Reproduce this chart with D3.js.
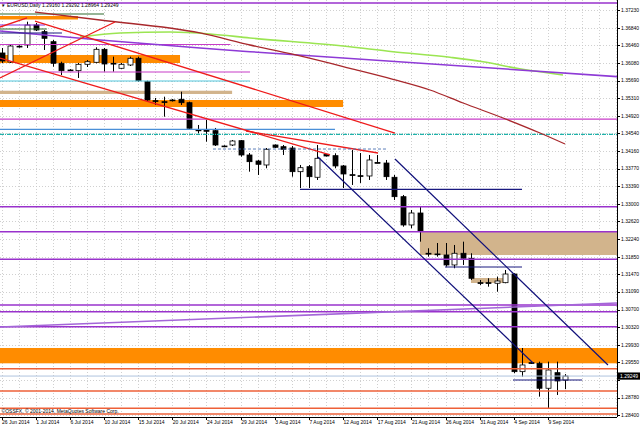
<!DOCTYPE html>
<html><head><meta charset="utf-8">
<script src="https://cdn.jsdelivr.net/npm/d3@7"></script>
<style>body{margin:0;background:#fff}svg{display:block}text{font-family:"Liberation Sans",Arial,sans-serif}</style>
</head><body><svg id="c" width="640" height="427"></svg>
<script>
// ---------- data ----------
const opens  = [1.36293,1.36096,1.36430,1.36467,1.36903,1.36757,1.36539,1.36068,1.35922,1.35907,1.36046,1.36090,1.36373,1.36068,1.35959,1.36031,1.36177,1.35667,1.35253,1.35231,1.35268,1.35283,1.35209,1.34614,1.34603,1.34599,1.34265,1.34287,1.34381,1.34069,1.33938,1.33851,1.34287,1.34250,1.34221,1.33705,1.33814,1.33583,1.34084,1.34054,1.33830,1.33640,1.33618,1.33611,1.33905,1.33894,1.33583,1.33160,1.32543,1.32804,1.31926,1.31911,1.31889,1.31671,1.31926,1.31817,1.31285,1.31285,1.31272,1.31285,1.31474,1.29345,1.29541,1.29528,1.28983,1.29323,1.29160];
const highs  = [1.36402,1.36467,1.36460,1.36975,1.36947,1.36794,1.36576,1.36103,1.35940,1.36075,1.36140,1.36417,1.36402,1.36212,1.36075,1.36212,1.36212,1.35689,1.35312,1.35340,1.35290,1.35449,1.35231,1.34723,1.34834,1.34658,1.34280,1.34396,1.34396,1.34112,1.33960,1.34221,1.34298,1.34287,1.34265,1.33851,1.33851,1.34287,1.34090,1.34106,1.33851,1.34178,1.34112,1.34069,1.34069,1.33960,1.33633,1.33197,1.32870,1.32941,1.32035,1.32150,1.32150,1.32107,1.32179,1.31926,1.31344,1.31381,1.31416,1.31562,1.31490,1.29861,1.29567,1.29563,1.29563,1.29563,1.29292];
const lows   = [1.36075,1.36075,1.36410,1.36402,1.36772,1.36358,1.35994,1.35813,1.35900,1.35748,1.35987,1.36068,1.35885,1.35885,1.35944,1.36009,1.35667,1.35224,1.35159,1.34904,1.35235,1.35159,1.34614,1.34542,1.34359,1.34265,1.34245,1.34265,1.34032,1.33705,1.33633,1.33779,1.34221,1.34069,1.33596,1.33349,1.33349,1.33524,1.34036,1.33779,1.33349,1.33415,1.33459,1.33524,1.33888,1.33524,1.33088,1.32506,1.32471,1.32179,1.31852,1.31852,1.31634,1.31599,1.31671,1.31344,1.31235,1.31198,1.31089,1.31272,1.29310,1.29236,1.29512,1.28800,1.28547,1.28837,1.28964];
const closes = [1.36118,1.36445,1.36440,1.36903,1.36794,1.36613,1.36068,1.35907,1.35915,1.36046,1.36103,1.36373,1.36053,1.36062,1.36046,1.36177,1.35689,1.35268,1.35246,1.35225,1.35262,1.35209,1.34651,1.34608,1.34594,1.34287,1.34260,1.34374,1.34069,1.33923,1.33866,1.34193,1.34237,1.34193,1.33705,1.33792,1.33596,1.33997,1.34047,1.33830,1.33655,1.33627,1.33605,1.33960,1.33897,1.33596,1.33160,1.32543,1.32804,1.32412,1.31920,1.31904,1.31671,1.31926,1.31817,1.31381,1.31280,1.31278,1.31322,1.31474,1.29345,1.29491,1.29535,1.28983,1.29381,1.29142,1.29249];

const dateBars   = [0,4,8,12,16,20,24,28,32,36,40,44,48,52,56,60,64];
const dateLabels = ["26 Jun 2014","1 Jul 2014","6 Jul 2014","10 Jul 2014","15 Jul 2014","20 Jul 2014","24 Jul 2014","29 Jul 2014","3 Aug 2014","7 Aug 2014","12 Aug 2014","17 Aug 2014","21 Aug 2014","26 Aug 2014","31 Aug 2014","4 Sep 2014","9 Sep 2014"];
const priceTicks = [1.37230,1.36840,1.36460,1.36080,1.35690,1.35310,1.34920,1.34540,1.34160,1.33770,1.33390,1.33000,1.32620,1.32240,1.31850,1.31470,1.31090,1.30700,1.30320,1.29930,1.29550,1.29170,1.28780,1.28400];

// horizontal levels (price) drawn across whole chart
const purpleLevels    = [1.37383,1.32941,1.32396,1.31795,1.30798,1.30652,1.30325];
const magentaFull     = [1.34850];
const orangeRedLevels = [1.29407,1.28923,1.28546,1.28422];
const tealLevels      = [1.34520];
// partial levels [price, fromBar, toBar]
const magentaPartial  = [[1.36478,-0.2,26.8],[1.35878,-0.2,29.1]];
const cyanPartial     = [[1.35682,-0.2,29.1]];
const steelPartial    = [[1.34629,-0.2,39.05]];
const darkGreenPartial= [[1.37143,-0.2,12.0],[1.36816,-0.2,5.3]];
const purplePartial   = [[1.36903,-0.2,5.08]];
const navyPartial     = [[1.36729,-0.2,7.07],[1.33321,34.95,60.96],[1.31627,51.94,60.96],[1.29163,59.9,68.0]];
const dashedPartial   = [[1.34199,24.76,45.14]];
// zones [top, bottom, fromBar, toBar]
const orangeZones = [[1.37099,1.37023,-0.2,8.95],[1.36249,1.36074,-0.2,20.9],[1.35268,1.35115,-0.2,40.0],[1.29861,1.29527,-0.2,72.2]];
const tanZones    = [[1.35470,1.35399,-0.2,27.0],[1.32390,1.31888,49.0,72.2],[1.31387,1.31278,54.98,58.97]];
// trend lines [bar1, price1, bar2, price2]
const redTrends    = [[3.91,1.36990,46.08,1.34548],[-0.19,1.36183,38.47,1.34069],[28.63,1.34592,44.09,1.34112],[-0.19,1.35747,13.28,1.36968],[-0.19,1.36859,2.98,1.37056]];
const navyTrends   = [[37.06,1.34025,62.25,1.29534],[46.08,1.33981,71.03,1.29490]];
const violetTrends = [[-0.19,1.30319,72.2,1.30842]];
// moving-average style curves [bar, price]
const maGreen  = [[9.18,1.36641],[13.87,1.36729],[19.73,1.36750],[24.41,1.36707],[29.10,1.36620],[39.99,1.36445],[45.85,1.36321],[52.52,1.36199],[56.39,1.36103],[60.37,1.35959],[65.76,1.35813]];
const maPurple = [[-0.19,1.36772],[11.53,1.36576],[23.24,1.36402],[29.10,1.36321],[72.2,1.35776]];
const maMaroon = [[3.91,1.37186],[11.53,1.37012],[23.24,1.36729],[29.10,1.36467],[35.32,1.36212],[40.81,1.35959],[45.85,1.35719],[50.18,1.35486],[54.05,1.35202],[58.74,1.34875],[63.07,1.34548],[66.0,1.34308]];

const titleText = "EURUSD,Daily  1.29160 1.29292 1.28964 1.29249";
const copyText  = "\u00A9OSSFX, \u00A9 2001-2014, MetaQuotes Software Corp.";

// ---------- drawing ----------
const R = 617, B = 417;
const svg = d3.select("#c");
const x = d3.scaleLinear().domain([0, 66]).range([1.6, 1.6 + 66 * 8.537]);
const y = d3.scaleLinear().domain([1.284, 1.3723]).range([415, 10]);
const last = closes[closes.length - 1];

svg.append("rect").attr("width", 640).attr("height", 427).attr("fill", "#fff");
svg.append("clipPath").attr("id", "clip").append("rect").attr("x", 0).attr("y", 0).attr("width", R).attr("height", B);
const g = svg.append("g").attr("clip-path", "url(#clip)");

// grid
const grid = g.append("g").attr("stroke", "#c4c4c4").attr("stroke-width", 0.8).attr("stroke-dasharray", "1,2");
const gridBars = d3.range(0, 80, 2).filter(i => x(i) < R);
grid.selectAll("line.v").data(gridBars).join("line").attr("x1", d => Math.round(x(d)) + 0.5).attr("x2", d => Math.round(x(d)) + 0.5).attr("y1", 0).attr("y2", B);
grid.selectAll("line.h").data(priceTicks).join("line").attr("x1", 0).attr("x2", R).attr("y1", d => Math.round(y(d)) + 0.5).attr("y2", d => Math.round(y(d)) + 0.5);

// zones
function zones(data, color) {
  g.append("g").selectAll("rect").data(data).join("rect")
    .attr("x", d => Math.max(0, x(d[2]))).attr("width", d => x(d[3]) - Math.max(0, x(d[2])))
    .attr("y", d => y(d[0])).attr("height", d => y(d[1]) - y(d[0])).attr("fill", color);
}
zones(orangeZones, "#FF8C00");
zones(tanZones, "#D2B48C");

// candles
const cg = g.append("g");
const idx = d3.range(opens.length);
cg.selectAll("line.w").data(idx).join("line")
  .attr("x1", i => Math.round(x(i)) + 0.5).attr("x2", i => Math.round(x(i)) + 0.5)
  .attr("y1", i => y(highs[i])).attr("y2", i => y(lows[i])).attr("stroke", "#000").attr("stroke-width", 1);
cg.selectAll("rect").data(idx).join("rect")
  .attr("x", i => Math.round(x(i)) - 2).attr("width", 5)
  .attr("y", i => y(Math.max(opens[i], closes[i])))
  .attr("height", i => Math.max(0.8, Math.abs(y(opens[i]) - y(closes[i]))))
  .attr("fill", i => closes[i] >= opens[i] ? "#fff" : "#000")
  .attr("stroke", "#000").attr("stroke-width", 0.8);

function fullLevels(data, color, w, dash) {
  const s = g.append("g").selectAll("line").data(data).join("line")
    .attr("x1", 0).attr("x2", R).attr("y1", d => y(d)).attr("y2", d => y(d))
    .attr("stroke", color).attr("stroke-width", w);
  if (dash) s.attr("stroke-dasharray", dash);
}
function partLevels(data, color, w, dash) {
  const s = g.append("g").selectAll("line").data(data).join("line")
    .attr("x1", d => x(d[1])).attr("x2", d => x(d[2])).attr("y1", d => y(d[0])).attr("y2", d => y(d[0]))
    .attr("stroke", color).attr("stroke-width", w);
  if (dash) s.attr("stroke-dasharray", dash);
}
function trends(data, color, w) {
  g.append("g").selectAll("line").data(data).join("line")
    .attr("x1", d => x(d[0])).attr("y1", d => y(d[1])).attr("x2", d => x(d[2])).attr("y2", d => y(d[3]))
    .attr("stroke", color).attr("stroke-width", w);
}
function curve(data, color, w) {
  g.append("path").datum(data).attr("d", d3.line().x(d => x(d[0])).y(d => y(d[1])).curve(d3.curveMonotoneX))
    .attr("fill", "none").attr("stroke", color).attr("stroke-width", w);
}

fullLevels(tealLevels, "#20B2AA", 1.2, "4,1,1,1");
partLevels(steelPartial, "#4A8FD8", 1.2);
partLevels(cyanPartial, "#55C8DD", 1.1);
partLevels(magentaPartial, "#C83CC8", 1.1);
fullLevels(magentaFull, "#C83CC8", 1.2);
partLevels(darkGreenPartial, "#2F6B2F", 1.1);
partLevels(purplePartial, "#8A2BE2", 1.1);
fullLevels(purpleLevels, "#9932CC", 1.4);
fullLevels(orangeRedLevels, "#EE6038", 1.4);
curve(maGreen, "#9BE552", 1.6);
curve(maPurple, "#8E3AD6", 1.5);
curve(maMaroon, "#A8282C", 1.3);
trends(violetTrends, "#A466D8", 1.6);
trends(redTrends, "#EE1B1B", 1.3);
partLevels(dashedPartial, "#4A6FB0", 0.9, "3,2");
partLevels(navyPartial, "#1A1A80", 1.2);
trends(navyTrends, "#10107A", 1.2);

// bid line
g.append("line").attr("x1", 0).attr("x2", R).attr("y1", y(last)).attr("y2", y(last)).attr("stroke", "#B0C4DE").attr("stroke-width", 1);

// axes frame
svg.append("line").attr("x1", R + 0.5).attr("x2", R + 0.5).attr("y1", 0).attr("y2", B).attr("stroke", "#000");
svg.append("line").attr("x1", 0).attr("x2", R).attr("y1", B + 0.5).attr("y2", B + 0.5).attr("stroke", "#000");

// price axis (labels hidden behind the current-price box are skipped)
const shownTicks = priceTicks.filter(p => Math.abs(y(p) - y(last)) > 6);
const pa = svg.append("g");
pa.selectAll("line").data(priceTicks).join("line").attr("x1", R).attr("x2", R + 3)
  .attr("y1", d => Math.round(y(d)) + 0.5).attr("y2", d => Math.round(y(d)) + 0.5).attr("stroke", "#000");
pa.selectAll("text").data(shownTicks).join("text").attr("x", R + 4).attr("y", d => y(d) + 1.8)
  .attr("font-size", 5).attr("fill", "#000").text(d => d.toFixed(5));
svg.append("rect").attr("x", R + 1).attr("y", y(last) - 3.6).attr("width", 640 - R - 1).attr("height", 7.2).attr("fill", "#000");
svg.append("text").attr("x", R + 3).attr("y", y(last) + 1.8).attr("font-size", 5).attr("fill", "#fff").text(last.toFixed(5));

// date axis
const da = svg.append("g");
da.selectAll("line").data(dateBars).join("line").attr("x1", d => Math.round(x(d)) + 0.5).attr("x2", d => Math.round(x(d)) + 0.5)
  .attr("y1", B).attr("y2", B + 3).attr("stroke", "#000");
da.selectAll("text").data(dateBars).join("text").attr("x", d => x(d) + 0.5).attr("y", 424)
  .attr("font-size", 5).attr("fill", "#000").text((d, i) => dateLabels[i]);

// title & copyright
svg.append("text").attr("x", 1).attr("y", 7).attr("font-size", 4.5).attr("fill", "#000").text("\u25BC");
svg.append("text").attr("x", 7).attr("y", 7).attr("font-size", 5).attr("fill", "#000").text(titleText);
svg.append("text").attr("x", 1.5).attr("y", 413).attr("font-size", 5).attr("fill", "#000").text(copyText);
</script></body></html>
